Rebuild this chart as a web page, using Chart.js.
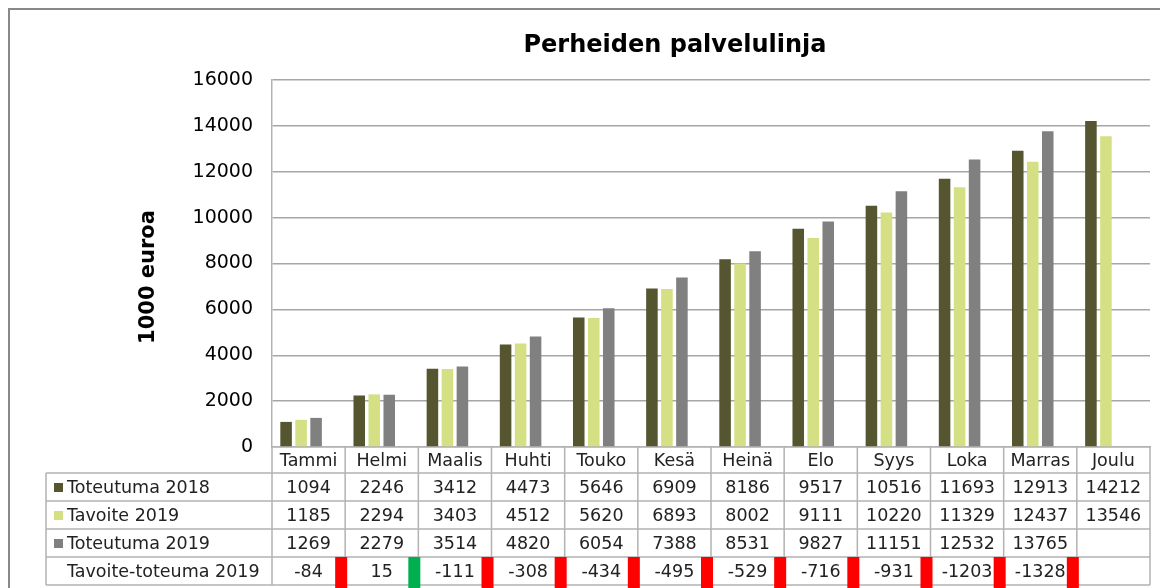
<!DOCTYPE html>
<html lang="fi">
<head>
  <meta charset="UTF-8" />
  <title>Perheiden palvelulinja</title>
  <script src="https://cdn.jsdelivr.net/npm/chart.js"></script>
  <style>
    html, body { margin: 0; padding: 0; background: #fff; }
    #wrap { width: 1160px; height: 588px; position: relative; }
  </style>
</head>
<body>
  <div id="wrap">
    <canvas id="chart" width="1160" height="588"></canvas>
  </div>

  <script>
    // kuukaudet ja sarjat (1000 euroa, kumulatiivinen)
    const months = ['Tammi', 'Helmi', 'Maalis', 'Huhti', 'Touko', 'Kesä', 'Heinä', 'Elo', 'Syys', 'Loka', 'Marras', 'Joulu'];
    const toteutuma2018 = [1094, 2246, 3412, 4473, 5646, 6909, 8186, 9517, 10516, 11693, 12913, 14212];
    const tavoite2019 = [1185, 2294, 3403, 4512, 5620, 6893, 8002, 9111, 10220, 11329, 12437, 13546];
    const toteutuma2019 = [1269, 2279, 3514, 4820, 6054, 7388, 8531, 9827, 11151, 12532, 13765, null];
    const erotus2019 = [-84, 15, -111, -308, -434, -495, -529, -716, -931, -1203, -1328, null];
    const yTicks = [0, 2000, 4000, 6000, 8000, 10000, 12000, 14000, 16000];

    const FONT = '"DejaVu Sans", Verdana, sans-serif';
    const LINE = '#b3b3b3';

    // otsikko, akselin nimi, kehys ja taulukko piirretään itse
    const extras = {
      id: 'extras',
      beforeDraw(chart) {
        const ctx = chart.ctx;
        ctx.save();
        ctx.strokeStyle = '#888';
        ctx.lineWidth = 2;
        ctx.strokeRect(9, 9, 2000, 2000);
        ctx.restore();
      },
      afterDraw(chart) {
        const ctx = chart.ctx;
        const x = chart.scales.x;
        const area = chart.chartArea;
        const colW = x.width / months.length;
        const top = area.bottom;
        const rowH = 28;
        const headH = 26;
        const labelLeft = 46;
        const rows = chart.data.datasets;
        const tableBottom = top + headH + rowH * rows.length;

        ctx.save();
        // title
        ctx.fillStyle = '#000';
        ctx.font = 'bold 24px ' + FONT;
        ctx.textAlign = 'center';
        ctx.textBaseline = 'alphabetic';
        ctx.fillText('Perheiden palvelulinja', 675, 52);

        // y axis title
        ctx.save();
        ctx.translate(147, 277);
        ctx.rotate(-Math.PI / 2);
        ctx.font = 'bold 21px ' + FONT;
        ctx.fillText('1000 euroa', 0, 7);
        ctx.restore();

        // table lines
        ctx.strokeStyle = LINE;
        ctx.lineWidth = 1.5;
        ctx.beginPath();
        for (let r = 0; r <= rows.length; r++) {
          const y = top + headH + r * rowH;
          ctx.moveTo(labelLeft, y);
          ctx.lineTo(area.right, y);
        }
        for (let i = 0; i <= months.length; i++) {
          const bx = x.left + i * colW;
          ctx.moveTo(bx, top);
          ctx.lineTo(bx, tableBottom);
        }
        ctx.moveTo(labelLeft, top + headH);
        ctx.lineTo(labelLeft, tableBottom);
        ctx.stroke();

        // header: months
        ctx.fillStyle = '#222';
        ctx.font = '17.5px ' + FONT;
        ctx.textBaseline = 'middle';
        ctx.textAlign = 'center';
        months.forEach((m, i) => {
          ctx.fillText(m, x.getPixelForValue(i), top + headH / 2 + 1);
        });

        // rows
        rows.forEach((ds, r) => {
          const cy = top + headH + r * rowH + rowH / 2 + 1;
          if (ds.backgroundColor !== 'rgba(0,0,0,0)') {
            ctx.fillStyle = ds.backgroundColor;
            ctx.fillRect(54, cy - 5, 9, 9);
          }
          ctx.fillStyle = '#222';
          ctx.textAlign = 'left';
          ctx.fillText(ds.label, 67, cy);
          ctx.textAlign = 'center';
          ds.data.forEach((v, i) => {
            if (v !== null) ctx.fillText(String(v), x.getPixelForValue(i), cy);
          });
        });

        // merkit erotukselle
        const markTop = top + headH + rowH * 3;
        erotus2019.forEach((v, i) => {
          if (v === null) return;
          const bx = x.left + (i + 1) * colW;
          ctx.fillStyle = v >= 0 ? '#00b050' : '#ff0000';
          ctx.fillRect(bx - 10, markTop, 12, 32);
        });
        ctx.restore();
      }
    };

    new Chart(document.getElementById('chart'), {
      type: 'bar',
      data: {
        labels: months,
        datasets: [
          { label: 'Toteutuma 2018', data: toteutuma2018, backgroundColor: '#55552f' },
          { label: 'Tavoite 2019', data: tavoite2019, backgroundColor: '#d4e083' },
          { label: 'Toteutuma 2019', data: toteutuma2019, backgroundColor: '#808080' },
          { label: 'Tavoite-toteuma 2019', data: erotus2019, backgroundColor: 'rgba(0,0,0,0)' }
        ]
      },
      options: {
        responsive: false,
        animation: false,
        layout: { padding: { left: 0, top: 80, right: 10, bottom: 141 } },
        datasets: {
          bar: { categoryPercentage: 0.82, barPercentage: 0.77 }
        },
        plugins: {
          legend: { display: false },
          title: { display: false },
          tooltip: { enabled: false }
        },
        scales: {
          x: {
            ticks: { display: false },
            grid: { display: false },
            border: { display: true, color: LINE, width: 1.5 },
            afterFit(scale) { scale.height = 0; }
          },
          y: {
            min: 0,
            max: 16000,
            afterBuildTicks(scale) { scale.ticks = yTicks.map(v => ({ value: v })); },
            ticks: {
              color: '#000',
              font: { family: FONT, size: 19 },
              padding: 19,
              callback: v => String(v)
            },
            grid: { color: '#a6a6a6', lineWidth: 1.5, drawTicks: false },
            border: { display: true, color: LINE, width: 1.5 },
            afterFit(scale) { scale.width = 272; }
          }
        }
      },
      plugins: [extras]
    });
  </script>
</body>
</html>
